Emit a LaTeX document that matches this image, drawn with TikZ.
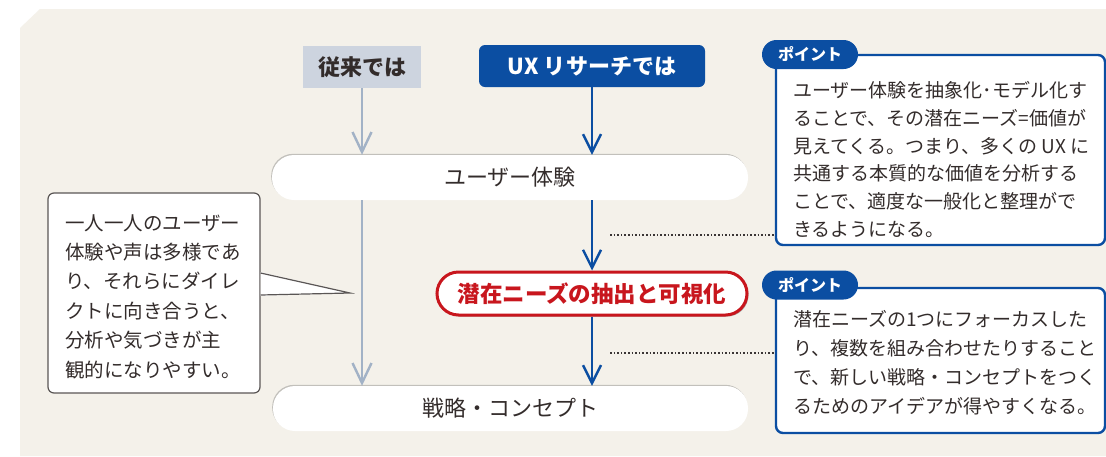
\documentclass[tikz,border=0pt]{standalone}
\usepackage{fontspec}
\setmainfont{Noto Sans CJK JP}
\usetikzlibrary{arrows.meta,shadows}
\definecolor{bg}{HTML}{F4F1EA}
\definecolor{uxblue}{HTML}{0B4EA2}
\definecolor{grayarrow}{HTML}{A2B2C6}
\definecolor{graybox}{HTML}{CDD4DF}
\definecolor{txt}{HTML}{332C2B}
\definecolor{redc}{HTML}{C8161D}
\definecolor{callb}{HTML}{5A5655}
\definecolor{dotc}{HTML}{3A3535}
\begin{document}
\begin{tikzpicture}[x=1pt,y=-1pt,
  headbox/.style={minimum height=42pt,inner sep=0pt,font=\fontsize{22}{24}\selectfont\bfseries},
  flowbox/.style={fill=white,rounded corners=22pt,minimum height=45pt,inner sep=0pt,text=txt,
     font=\fontsize{22}{24}\selectfont,drop shadow={shadow xshift=-0.8pt,shadow yshift=1.2pt,opacity=0.35,fill=black!60}},
  pointbox/.style={draw=uxblue,line width=2.4pt,fill=white,rounded corners=7pt,inner sep=0pt,minimum width=329pt},
  tab/.style={fill=uxblue,text=white,rounded corners=14.5pt,minimum width=96pt,minimum height=29pt,inner sep=0pt,font=\fontsize{16}{18}\selectfont\bfseries},
  ptext/.style={anchor=west,inner sep=0pt,align=left,text=txt},
  bluearrow/.style={draw=uxblue,line width=2.4pt,-{Straight Barb[length=18pt,width=18pt]}},
  grayarrow/.style={draw=grayarrow,line width=2.4pt,-{Straight Barb[length=20pt,width=19pt]}},
  dotline/.style={draw=dotc,line width=1.6pt,dotted}]
\useasboundingbox (0,0) rectangle (1106,456);
\fill[white] (0,0) rectangle (1106,456);
\fill[bg] (20,28) -- (40,9) -- (1106,9) -- (1106,456) -- (20,456) -- cycle;

% top headers
\node[headbox,fill=graybox,text=txt,minimum width=118pt] (jr) at (362,67) {従来では};
\node[headbox,fill=uxblue,text=white,rounded corners=6pt,minimum width=226pt] (ux) at (592,66) {UX リサーチでは};

% flow nodes
\node[flowbox,minimum width=476pt] (ue) at (510,177.5) {ユーザー体験};
\node[draw=redc,line width=3pt,fill=white,rounded corners=21.5pt,minimum width=310pt,minimum height=43pt,inner sep=0pt,
      text=redc,font=\fontsize{22.5}{24}\selectfont\bfseries,
      drop shadow={shadow xshift=1.5pt,shadow yshift=-1.5pt,opacity=0.45,fill=black!70}] (rd) at (592,293.5) {潜在ニーズの抽出と可視化};
\node[flowbox,minimum width=475pt] (st) at (510.5,408.5) {戦略・コンセプト};

% arrows
\draw[grayarrow] (jr.south) -- (jr.south |- ue.north);
\draw[grayarrow] (ue.south -| jr.south) -- (jr.south |- st.north);
\draw[bluearrow] (ux.south) -- (ux.south |- ue.north);
\draw[bluearrow] (ue.south -| rd.north) -- (rd.north);
\draw[bluearrow] (rd.south) -- (rd.south |- st.north);

% left callout
\node[draw=callb,line width=1.2pt,fill=white,rounded corners=6pt,minimum width=212pt,minimum height=200pt,inner sep=0pt] (cl) at (154,293) {};
\coordinate (tip) at (350,293);
\fill[white] ([yshift=21pt]cl.east) -- (tip) -- ([yshift=-3pt]cl.east) -- cycle;
\draw[callb,line width=1.2pt] ([yshift=20pt]cl.east) -- (tip) -- ([yshift=-2pt]cl.east);
\node[ptext,font=\fontsize{19.5}{29.4}\selectfont] (clt) at (65,296.5) {一人一人のユーザー\\体験や声は多様であ\\り、それらにダイレ\\クトに向き合うと、\\分析や気づきが主\\観的になりやすい。};

% point box 1
\node[pointbox,minimum height=190pt] (p1) at (940.5,150) {};
\node[tab] (t1) at (810,54.5) {ポイント};
\node[ptext,font=\fontsize{19}{27.8}\selectfont] (p1t) at (793,159.5) {ユーザー体験を抽象化･モデル化す\\ることで、その潜在ニーズ=価値が\\見えてくる。つまり、多くの UX に\\共通する本質的な価値を分析する\\ことで、適度な一般化と整理がで\\きるようになる。};

% point box 2
\node[pointbox,minimum height=145pt] (p2) at (940.5,360.5) {};
\node[tab] (t2) at (810,285) {ポイント};
\node[ptext,font=\fontsize{19}{29}\selectfont] (p2t) at (793,362.5) {潜在ニーズの1つにフォーカスした\\り、複数を組み合わせたりすること\\で、新しい戦略・コンセプトをつく\\るためのアイデアが得やすくなる。};

% dotted connectors
\coordinate (d1) at (610,235);
\coordinate (d2) at (610,353);
\draw[dotline] (d1) -- (d1 -| p1.west);
\draw[dotline] (d2) -- (d2 -| p2.west);
\end{tikzpicture}
\end{document}
